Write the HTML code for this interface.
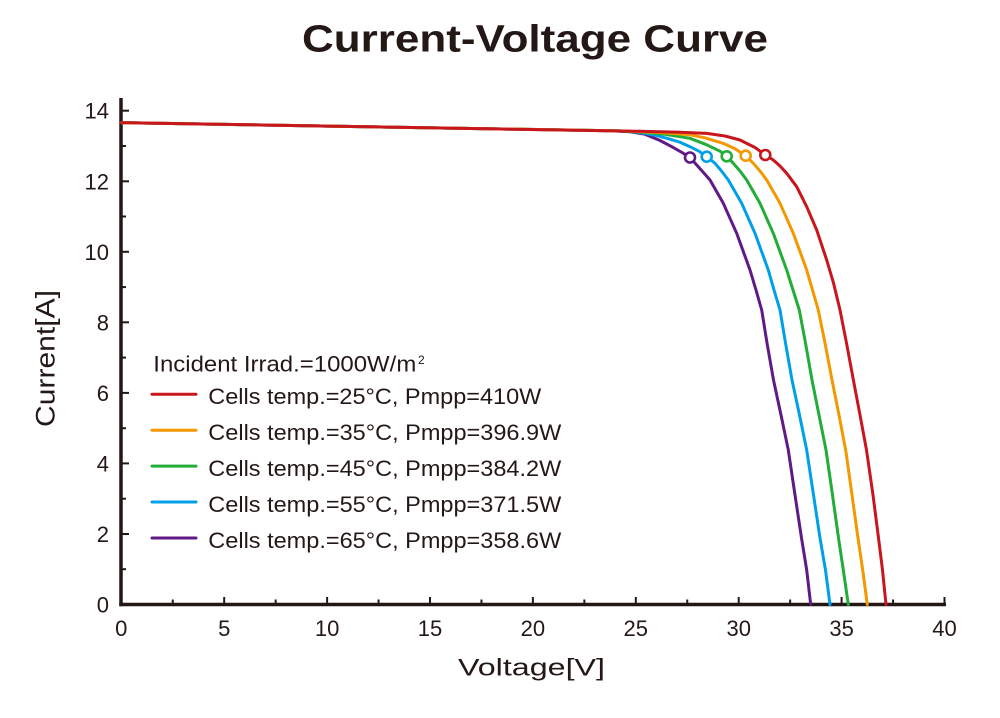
<!DOCTYPE html>
<html><head><meta charset="utf-8"><style>
html,body{margin:0;padding:0;background:#fff;}
svg{display:block;}
text{font-family:"Liberation Sans",sans-serif;fill:#231815;}
</style></head><body>
<svg width="1000" height="718" viewBox="0 0 1000 718" xmlns="http://www.w3.org/2000/svg">
<rect width="1000" height="718" fill="#fff"/>
<text x="302" y="51.5" font-size="38" font-weight="bold" textLength="466" lengthAdjust="spacingAndGlyphs">Current-Voltage Curve</text>

<!-- axes -->
<g stroke="#231815" fill="none">
<line x1="121" y1="98" x2="121" y2="606.3" stroke-width="3.5"/>
<line x1="119.3" y1="604.5" x2="946" y2="604.5" stroke-width="3.5"/>
<g stroke-width="2">
<!-- x major -->
<line x1="224.2" y1="604" x2="224.2" y2="597"/>
<line x1="327.1" y1="604" x2="327.1" y2="597"/>
<line x1="430" y1="604" x2="430" y2="597"/>
<line x1="532.9" y1="604" x2="532.9" y2="597"/>
<line x1="635.8" y1="604" x2="635.8" y2="597"/>
<line x1="738.7" y1="604" x2="738.7" y2="597"/>
<line x1="841.6" y1="604" x2="841.6" y2="597"/>
<line x1="944.5" y1="604" x2="944.5" y2="597"/>
<!-- x minor -->
<line x1="172.75" y1="604" x2="172.75" y2="599.5"/>
<line x1="275.65" y1="604" x2="275.65" y2="599.5"/>
<line x1="378.55" y1="604" x2="378.55" y2="599.5"/>
<line x1="481.45" y1="604" x2="481.45" y2="599.5"/>
<line x1="584.35" y1="604" x2="584.35" y2="599.5"/>
<line x1="687.25" y1="604" x2="687.25" y2="599.5"/>
<line x1="790.15" y1="604" x2="790.15" y2="599.5"/>
<line x1="893.05" y1="604" x2="893.05" y2="599.5"/>
<!-- y major -->
<line x1="121" y1="534" x2="129" y2="534"/>
<line x1="121" y1="463.4" x2="129" y2="463.4"/>
<line x1="121" y1="392.9" x2="129" y2="392.9"/>
<line x1="121" y1="322.3" x2="129" y2="322.3"/>
<line x1="121" y1="251.8" x2="129" y2="251.8"/>
<line x1="121" y1="181.3" x2="129" y2="181.3"/>
<line x1="121" y1="110.7" x2="129" y2="110.7"/>
<!-- y minor -->
<line x1="121" y1="569.2" x2="126" y2="569.2"/>
<line x1="121" y1="498.7" x2="126" y2="498.7"/>
<line x1="121" y1="428.2" x2="126" y2="428.2"/>
<line x1="121" y1="357.6" x2="126" y2="357.6"/>
<line x1="121" y1="287.1" x2="126" y2="287.1"/>
<line x1="121" y1="216.5" x2="126" y2="216.5"/>
<line x1="121" y1="146" x2="126" y2="146"/>
</g></g>

<!-- tick labels -->
<g font-size="22" text-anchor="middle">
<text x="121.3" y="636">0</text>
<text x="224.2" y="636">5</text>
<text x="327.1" y="636">10</text>
<text x="430" y="636">15</text>
<text x="532.9" y="636">20</text>
<text x="635.8" y="636">25</text>
<text x="738.7" y="636">30</text>
<text x="841.6" y="636">35</text>
<text x="944.5" y="636">40</text>
</g>
<g font-size="22" text-anchor="end">
<text x="109" y="612.5">0</text>
<text x="109" y="542">2</text>
<text x="109" y="471.4">4</text>
<text x="109" y="400.9">6</text>
<text x="109" y="330.3">8</text>
<text x="109" y="259.8">10</text>
<text x="109" y="189.3">12</text>
<text x="109" y="118.7">14</text>
</g>

<text x="458" y="675.5" font-size="24" textLength="147" lengthAdjust="spacingAndGlyphs">Voltage[V]</text>
<text transform="translate(54.5,358.5) rotate(-90)" text-anchor="middle" font-size="27" textLength="137" lengthAdjust="spacingAndGlyphs">Current[A]</text>

<!-- curves -->
<g fill="none" stroke-width="3" stroke-linejoin="round" stroke-linecap="round">
<polyline stroke="#601986" points="121.3,122.7 610,130.8 630,131.8 645,134.2 660,140.5 672,146.8 682,152.5 690,157.5 696.7,165 703,172 710,180 723.3,203.3 736.7,233.3 750,270 756,290 761.7,310 767,343 773.5,380 781,415 788.3,450 795,495 801.5,538 806.7,570 810.7,604.5"/>
<polyline stroke="#00a0e9" points="121.3,122.7 620,130.9 640,132.5 655,135.2 667,138.3 680,142.2 690,146.7 699,151.2 706.7,156.7 715,163.3 721.5,171 728.3,180 741.7,203.3 755,233.3 768.3,270 774,290 780,310 785.5,343 792,380 799.5,415 806.7,450 813.5,495 820,538 825.5,570 830,604.5"/>
<polyline stroke="#22ac38" points="121.3,122.7 620,130.9 645,132.4 665,134.3 690,138.3 706.7,144.8 720,151.2 726.7,156.3 733.3,163.3 740,171 746.7,180 760,203.3 773.3,233.3 786.7,270 793,290 799.3,310 805.5,343 812,380 819,415 826,450 832.5,495 838.5,538 843.3,570 848.3,604.5"/>
<polyline stroke="#f39800" points="121.3,122.7 620,130.9 660,132.5 690,134.8 705,137.8 723,143.3 735,148.8 745.7,155.7 753.3,163.3 760,171 766.7,180 780,203.3 793.3,233.3 806.7,270 812.5,290 818.3,310 825,343 832,380 839,415 846,452 852,495 858,538 862.7,570 867.3,604.5"/>
<polyline stroke="#c9161d" points="121.3,122.7 640,131.3 680,132.2 706.7,133.4 725,136 740,140 755,147.5 765.3,155 773.3,160 780,166 786.7,173.3 796.7,186.7 806.7,206.7 816.7,230 826.7,260 833.5,283 840,310 846.5,343 853,378 860,415 866.5,450 873,495 878.5,538 882.5,570 886,604.5"/>
</g>
<g fill="#fff" stroke-width="2.6">
<circle cx="690" cy="157.5" r="5" stroke="#601986"/>
<circle cx="706.7" cy="156.7" r="5" stroke="#00a0e9"/>
<circle cx="726.7" cy="156.3" r="5" stroke="#22ac38"/>
<circle cx="745.7" cy="155.7" r="5" stroke="#f39800"/>
<circle cx="765.3" cy="155" r="5" stroke="#c9161d"/>
</g>

<!-- legend -->
<text x="153.3" y="371.7" font-size="22" textLength="263" lengthAdjust="spacingAndGlyphs">Incident Irrad.=1000W/m</text>
<text x="418" y="364" font-size="12">2</text>
<g stroke-width="3" stroke-linecap="round">
<line x1="152" y1="394.3" x2="196" y2="394.3" stroke="#c9161d"/>
<line x1="152" y1="430.2" x2="196" y2="430.2" stroke="#f39800"/>
<line x1="152" y1="466.1" x2="196" y2="466.1" stroke="#22ac38"/>
<line x1="152" y1="502" x2="196" y2="502" stroke="#00a0e9"/>
<line x1="152" y1="538" x2="196" y2="538" stroke="#601986"/>
</g>
<g font-size="22">
<text x="208.3" y="404" textLength="333" lengthAdjust="spacingAndGlyphs">Cells temp.=25°C, Pmpp=410W</text>
<text x="208.3" y="440" textLength="353" lengthAdjust="spacingAndGlyphs">Cells temp.=35°C, Pmpp=396.9W</text>
<text x="208.3" y="476" textLength="353" lengthAdjust="spacingAndGlyphs">Cells temp.=45°C, Pmpp=384.2W</text>
<text x="208.3" y="512" textLength="353" lengthAdjust="spacingAndGlyphs">Cells temp.=55°C, Pmpp=371.5W</text>
<text x="208.3" y="547.8" textLength="353" lengthAdjust="spacingAndGlyphs">Cells temp.=65°C, Pmpp=358.6W</text>
</g>
</svg>
</body></html>
